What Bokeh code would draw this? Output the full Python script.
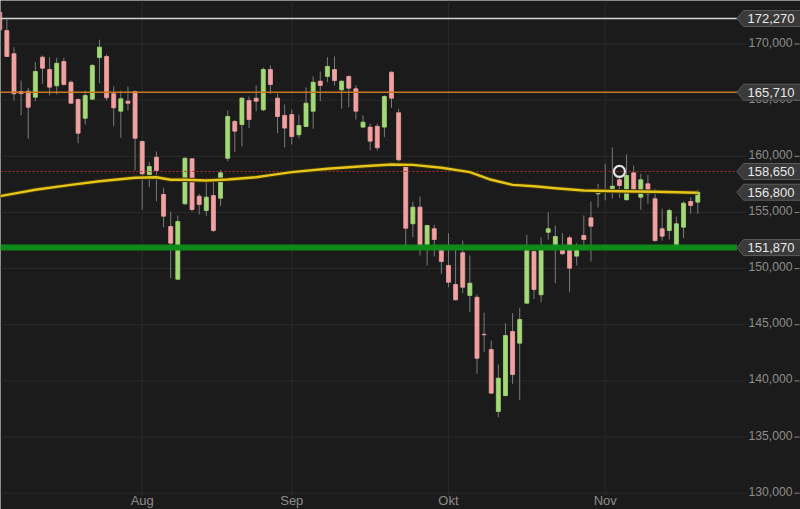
import numpy as np
from bokeh.plotting import figure
from bokeh.models import Range1d
from bokeh.core.properties import value
from bokeh.embed import file_html
from bokeh.resources import INLINE

# ---------------- data ----------------
opens = [172830, 171200, 169130, 165770, 165800, 165260, 168830, 167730, 166280, 168440,
         166600, 165060, 163390, 165090, 168790, 168890, 165570, 164020, 164910, 165770,
         161320, 158350, 159920, 156600, 153750, 149060, 155770, 159780, 156450, 155180,
         156510, 156270, 159830, 163100, 162830, 164970, 165180, 164140, 167730, 165180,
         163640, 163720, 161920, 162660, 164020, 166690, 167110, 167730, 165920, 167110,
         166010, 162600, 162600, 162670, 162600, 167490, 163880, 159090, 153990, 155470,
         152120, 153550, 151680, 150280, 148590, 151410, 147610, 147450, 144150, 142800,
         137280, 138700, 144400, 143360, 146920, 151520, 147670, 153240, 152060, 151680,
         152740, 151110, 152950, 154520, 156660, 156800, 156960, 157910, 156130, 158530,
         156360, 157550, 156220, 153550, 153390, 152060, 153690, 155980, 155920]
highs = [173000, 172200, 169720, 166750, 166100, 168380, 168980, 168830, 168770, 168770,
         166750, 165150, 165860, 168240, 170380, 169070, 166220, 165860, 166220, 165860,
         161410, 159480, 160430, 157200, 155090, 154730, 159920, 159830, 156660, 158050,
         158000, 158800, 164080, 163250, 165260, 165330, 166310, 167910, 168090, 165590,
         164610, 164170, 163700, 166130, 167110, 167550, 168830, 168890, 166750, 167200,
         166310, 163640, 162900, 162900, 165420, 167550, 164230, 159180, 155980, 156420,
         153900, 153900, 151820, 153150, 151680, 152500, 151170, 147690, 146070, 143600,
         141460, 145140, 146030, 146510, 153010, 151610, 152800, 155020, 153840, 153150,
         152950, 152260, 154730, 155980, 157550, 159330, 160810, 158290, 160160, 159180,
         158440, 158350, 157110, 155330, 155330, 154640, 155980, 156360, 157040]
lows = [171200, 168850, 164970, 163640, 161560, 164910, 166460, 165420, 165510, 166300,
        164680, 161170, 162830, 165000, 166510, 164970, 162660, 161650, 164080, 158740,
        155260, 157250, 156000, 153690, 149150, 149000, 155680, 155090, 154820, 154670,
        153240, 155560, 159560, 160370, 160900, 162510, 164020, 164020, 165570, 162060,
        160790, 161050, 161610, 162600, 162450, 164910, 166600, 166310, 164230, 164370,
        163280, 162510, 160520, 160520, 161700, 164320, 159560, 152060, 152800, 151170,
        150280, 151080, 149540, 148340, 147160, 147810, 146120, 140630, 142560, 138850,
        136770, 138610, 139740, 138320, 146870, 147310, 147010, 152570, 148700, 151230,
        147900, 150280, 151610, 150630, 155440, 156070, 156220, 156310, 156070, 156660,
        155240, 155770, 152410, 152500, 152590, 152060, 152710, 154880, 154880]
closes = [171270, 168890, 165570, 165590, 164370, 167550, 167850, 166160, 168290, 166400,
          164730, 162060, 165420, 168090, 169720, 165210, 164320, 165120, 164730, 161610,
          158440, 159090, 158740, 154670, 152260, 154200, 159830, 155260, 155710, 156360,
          153390, 158530, 163550, 162240, 165180, 163280, 164910, 167730, 166400, 163550,
          162510, 161760, 162740, 164730, 166600, 166310, 168000, 166750, 166690, 166070,
          164020, 163040, 161350, 160760, 165330, 165180, 159690, 153600, 155470, 152060,
          153840, 152590, 150630, 148790, 147220, 148340, 148700, 142020, 144110, 138910,
          140240, 144040, 140570, 145470, 151610, 148140, 151680, 153550, 152860, 151320,
          150040, 151680, 152590, 153780, 156960, 156950, 157340, 157400, 158290, 156840,
          157910, 156660, 152500, 152890, 155180, 153990, 155830, 155620, 156800]

month_labels = ["Aug", "Sep", "Okt", "Nov"]
month_starts = [20, 41, 63, 85]          # candle index of first session of each month

ma_idx = [0, 5, 10, 14, 19, 22, 24, 26, 29, 32, 36, 38, 41, 46, 51, 55, 58, 62,
          66, 69, 72, 75, 78, 82, 87, 92, 98]
ma_vals = [156450, 157020, 157460, 157780, 158090, 158140, 157910, 157910, 157850,
           157940, 158140, 158320, 158590, 158890, 159120, 159270, 159240, 158980,
           158590, 157910, 157460, 157340, 157160, 156960, 156890, 156840, 156750]

level_vals = [172270, 165710, 158650, 151870]
badge_vals = [172270, 165710, 158650, 156800, 151870]

y_ticks = [130000, 135000, 140000, 145000, 150000, 155000, 160000, 165000, 170000]

marker_idx = [87]
marker_vals = [158650]

# ---------------- style / layout ----------------
BG = "#1c1b1b"
GRID = "#2b2a2a"
AXIS_TXT = "#8c8c8c"
UP = "#a3d977"
DOWN = "#f2a0a0"
WICK = "#7a7a7a"
FONT = value("Liberation Sans")

W, H = 800, 509
X0, X1 = 0.107, 112.42
PX = (X1 - X0) / W              # index units per pixel
VPX = 89.05                     # price units per pixel
Y0 = y_ticks[0] - 16.3 * VPX
Y1 = y_ticks[0] + 492.7 * VPX

p = figure(width=W, height=H, x_range=Range1d(X0, X1), y_range=Range1d(Y0, Y1),
           output_backend="svg", toolbar_location=None,
           x_axis_location=None, y_axis_location=None, min_border=0,
           background_fill_color=BG, border_fill_color=BG, outline_line_color=None)
p.xgrid.grid_line_color = None
p.ygrid.grid_line_color = None

plot_bottom = Y0 + 14 * VPX          # bottom edge of the price area
month_base = Y0 + 1.5 * VPX          # month labels sit just above the page bottom
grid_end = X0 + 745 * PX
badge_tip = X0 + 736.5 * PX
badge_box = X0 + 743 * PX
badge_txt = X0 + 747 * PX
label_right = X0 + 792 * PX
dash0, dash1 = X0 + 794 * PX, X0 + 799 * PX
bh = 8 * VPX

# grid lines
p.segment(x0=[X0] * len(y_ticks), x1=[grid_end] * len(y_ticks), y0=y_ticks, y1=y_ticks,
          line_color=GRID, line_width=1)
p.segment(x0=month_starts, x1=month_starts, y0=[plot_bottom] * len(month_starts),
          y1=[Y1] * len(month_starts), line_color=GRID, line_width=1)

# month labels
p.text(x=month_starts, y=[month_base] * len(month_starts), text=month_labels,
       text_align="center", text_baseline="bottom",
       text_font=FONT, text_font_size="13px", text_color=AXIS_TXT)

# candles
idx = np.arange(len(opens))
o = np.array(opens); c = np.array(closes)
cols = [UP if cc >= oo else DOWN for oo, cc in zip(opens, closes)]
p.segment(x0=idx, x1=idx, y0=lows, y1=highs, line_color=WICK, line_width=1)
p.vbar(x=idx, width=0.56, top=np.maximum(o, c), bottom=np.minimum(o, c),
       fill_color=cols, line_color=cols, line_width=0.8)

# level lines
p.segment(x0=[X0], x1=[badge_tip], y0=[level_vals[0]], y1=[level_vals[0]],
          line_color="#d4d4d4", line_width=1.6)
p.segment(x0=[X0], x1=[badge_tip], y0=[level_vals[1]], y1=[level_vals[1]],
          line_color="#c8781e", line_width=1.6)
p.segment(x0=[X0], x1=[badge_tip], y0=[level_vals[2]], y1=[level_vals[2]],
          line_color="#a83232", line_width=1, line_dash="2 2")

# moving average
p.line(ma_idx, ma_vals, line_color="#3d3408", line_width=4.5, line_join="round")
p.line(ma_idx, ma_vals, line_color="#e6c51c", line_width=2.4, line_join="round")

p.segment(x0=[X0], x1=[badge_tip], y0=[level_vals[3]], y1=[level_vals[3]],
          line_color="#0e8a18", line_width=6)

# event marker
p.scatter(x=marker_idx, y=marker_vals, marker="circle", size=11, fill_color=None,
          line_color="#e2e2e2", line_width=2.2)

# y tick labels + little tick dash
p.text(x=[label_right] * len(y_ticks), y=y_ticks, text=[f"{t:,}" for t in y_ticks],
       text_align="right", text_baseline="middle", y_offset=-2,
       text_font=FONT, text_font_size="12.2px", text_color=AXIS_TXT)
p.segment(x0=[dash0] * len(y_ticks), x1=[dash1] * len(y_ticks), y0=y_ticks, y1=y_ticks,
          line_color=AXIS_TXT, line_width=1)

# price badges
xs = [[badge_tip, badge_box, X1 + 1, X1 + 1, badge_box] for _ in badge_vals]
ys = [[v, v + bh, v + bh, v - bh, v - bh] for v in badge_vals]
p.patches(xs=xs, ys=ys, fill_color="#3a3a3a", line_color="#5c5c5c", line_width=1)
p.text(x=[badge_txt] * len(badge_vals), y=badge_vals, text=[f"{v:,}" for v in badge_vals],
       text_align="left", text_baseline="middle",
       text_font=FONT, text_font_size="13px", text_color="#e8e8e8")

open("out.html", "w").write(file_html(p, INLINE))
